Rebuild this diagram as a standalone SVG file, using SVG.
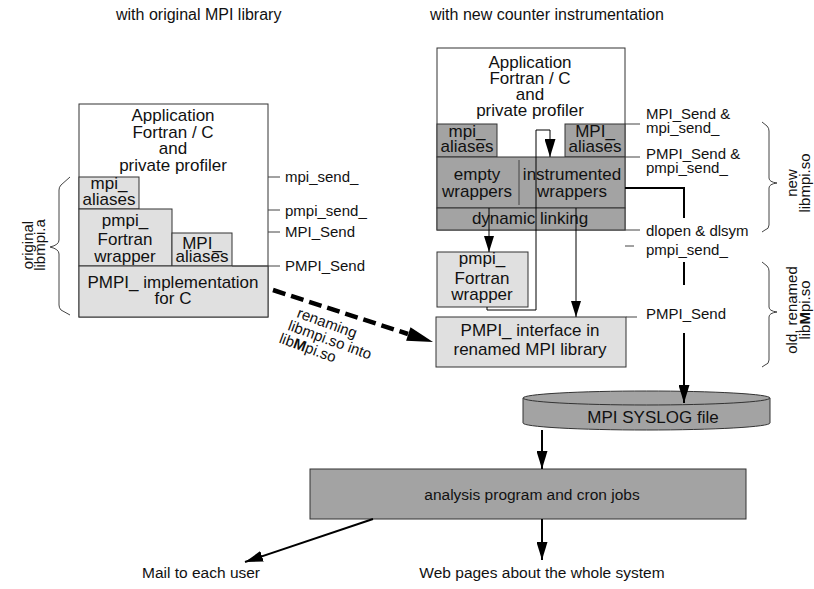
<svg xmlns="http://www.w3.org/2000/svg" width="814" height="589" viewBox="0 0 814 589">
<style>
text{font-family:"Liberation Sans",Arial,sans-serif;fill:#111}
.b{font-size:17px;text-anchor:middle}
.l{font-size:15px}
.h{font-size:16px}
.lt{fill:#e0e0e0;stroke:#333;stroke-width:1}
.dk{fill:#a3a3a3;stroke:#333;stroke-width:1}
.wh{fill:#fff;stroke:#333;stroke-width:1}
.tk{fill:none;stroke:#000;stroke-width:2}
.tn{fill:none;stroke:#000;stroke-width:1}
.gl{fill:none;stroke:#444;stroke-width:1}
</style>
<defs>
<marker id="ah" markerUnits="userSpaceOnUse" markerWidth="18" markerHeight="11" refX="18" refY="5.5" orient="auto"><path d="M0,0 L18,5.5 L0,11 Z" fill="#000"/></marker>
<marker id="as" markerUnits="userSpaceOnUse" markerWidth="16" markerHeight="10" refX="16" refY="5" orient="auto"><path d="M0,0 L16,5 L0,10 Z" fill="#000"/></marker>
</defs>

<text class="h" x="116" y="20">with original MPI library</text>
<text class="h" x="430" y="20">with new counter instrumentation</text>

<g id="left-app">
<rect class="wh" x="79" y="104" width="189" height="213"/>
<text class="b" x="173" y="121">Application<tspan x="173" dy="16.5">Fortran / C</tspan><tspan x="173" dy="16.5">and</tspan><tspan x="173" dy="16.5">private profiler</tspan></text>
</g>
<g id="left-mpi-aliases">
<rect class="lt" x="79" y="177" width="60" height="32"/>
<text class="b" x="109" y="189">mpi_<tspan x="109" dy="16">aliases</tspan></text>
</g>
<g id="left-pmpi-fortran">
<rect class="lt" x="79" y="209" width="93" height="57"/>
<text class="b" x="125" y="226">pmpi_<tspan x="125" dy="19">Fortran</tspan><tspan x="125" dy="17">wrapper</tspan></text>
</g>
<g id="left-MPI-aliases">
<rect class="lt" x="172" y="233" width="60" height="33"/>
<text class="b" x="202" y="249">MPI_<tspan x="202" dy="13">aliases</tspan></text>
</g>
<g id="left-pmpi-impl">
<rect class="lt" x="79" y="266" width="189" height="51"/>
<text class="b" x="173" y="288">PMPI_ implementation<tspan x="173" dy="16">for C</tspan></text>
</g>
<g id="left-labels">
<path class="gl" d="M268,177 H280 M268,210 H280 M268,232 H280 M232,266 H280"/>
<text class="l" x="285" y="182">mpi_send_</text>
<text class="l" x="285" y="216">pmpi_send_</text>
<text class="l" x="285" y="237">MPI_Send</text>
<text class="l" x="285" y="271">PMPI_Send</text>
</g>
<g id="left-brace">
<path class="gl" d="M70,177 L61,185 Q59,187 59,190 V240 Q59,245 50,247 Q59,249 59,254 V305 Q59,308 61,310 L70,315"/>
<text class="l" transform="translate(33,245) rotate(-90)" text-anchor="middle">original<tspan x="0" dy="12">libmpi.a</tspan></text>
</g>

<g id="right-app">
<rect class="wh" x="437" y="48" width="188" height="182"/>
<text class="b" x="530" y="68">Application<tspan x="530" dy="16">Fortran / C</tspan><tspan x="530" dy="16">and</tspan><tspan x="530" dy="16">private profiler</tspan></text>
</g>
<g id="right-mpi-aliases">
<rect class="dk" x="437" y="124" width="60" height="33"/>
<text class="b" x="467" y="137">mpi_<tspan x="467" dy="15">aliases</tspan></text>
</g>
<g id="right-MPI-aliases">
<rect class="dk" x="565" y="124" width="60" height="33"/>
<text class="b" x="595" y="137">MPI_<tspan x="595" dy="15">aliases</tspan></text>
</g>
<g id="wrappers">
<rect class="dk" x="437" y="157" width="188" height="51"/>
<line class="gl" x1="519" y1="160" x2="519" y2="205"/>
<text class="b" x="477" y="180">empty<tspan x="477" dy="17">wrappers</tspan></text>
<text class="b" x="572" y="180">instrumented<tspan x="572" dy="17">wrappers</tspan></text>
</g>
<g id="dynamic-linking">
<rect class="dk" x="437" y="208" width="188" height="22"/>
<text class="b" x="530" y="224">dynamic linking</text>
</g>
<g id="right-pmpi-fortran">
<rect class="lt" x="437" y="252" width="91" height="55"/>
<text class="b" x="482" y="264">pmpi_<tspan x="482" dy="20">Fortran</tspan><tspan x="482" dy="16">wrapper</tspan></text>
</g>
<g id="pmpi-interface">
<rect class="lt" x="436" y="317" width="190" height="50"/>
<text class="b" x="530" y="336">PMPI_ interface in<tspan x="530" dy="19">renamed MPI library</tspan></text>
</g>
<g id="syslog">
<path d="M523,398 V423 A123.5,7 0 0 0 770,423 V398 Z" fill="#a3a3a3" stroke="#333" stroke-width="1"/>
<ellipse cx="646.5" cy="398" rx="123.5" ry="7" fill="#a3a3a3" stroke="#333" stroke-width="1"/>
<text class="b" x="653" y="423">MPI SYSLOG file</text>
</g>
<g id="analysis">
<rect class="dk" x="310" y="469" width="436" height="50"/>
<text x="532" y="500" font-size="15.5" text-anchor="middle">analysis program and cron jobs</text>
</g>
<g id="mail"><text x="142" y="578" font-size="15.5">Mail to each user</text></g>
<g id="web"><text x="542" y="578" font-size="15.5" text-anchor="middle">Web pages about the whole system</text></g>

<g id="right-labels">
<path class="gl" d="M625,124 H640 M625,157 H640 M625,230 H640 M625,246 H634 M626,317 H637"/>
<text class="l" x="646" y="119">MPI_Send &amp;<tspan x="646" dy="14">mpi_send_</tspan></text>
<text class="l" x="646" y="159">PMPI_Send &amp;<tspan x="646" dy="14">pmpi_send_</tspan></text>
<text class="l" x="646" y="236">dlopen &amp; dlsym</text>
<text class="l" x="646" y="255">pmpi_send_</text>
<text class="l" x="646" y="319">PMPI_Send</text>
</g>
<g id="right-braces">
<path class="gl" d="M762,122 L767,126 Q769,128 769,131 V178 Q769,182 777,183 Q769,184 769,188 V225 Q769,229 765,230 L762,232"/>
<path class="gl" d="M762,262 L767,266 Q769,268 769,271 V307 Q769,311 777,312 Q769,313 769,317 V360 Q769,364 765,365 L762,367"/>
<text class="l" transform="translate(797,183) rotate(-90)" text-anchor="middle">new<tspan x="0" dy="13">libmpi.so</tspan></text>
<text class="l" transform="translate(797,310) rotate(-90)" text-anchor="middle">old, renamed<tspan x="0" dy="13">lib<tspan font-weight="bold">M</tspan>pi.so</tspan></text>
</g>

<g id="connectors">
<path class="tn" d="M489,208 V252" marker-end="url(#as)"/>
<path class="tn" d="M576,208 V317" marker-end="url(#as)"/>
<path class="tn" d="M487,307 V310 H536 V130 H550 V157" marker-end="url(#ah)"/>
<path class="tk" d="M625,188 H684 V218"/>
<path class="tk" d="M684,262 V285"/>
<path class="tk" d="M684,333 V403" marker-end="url(#ah)"/>
<path class="tk" d="M542,430 V469" marker-end="url(#ah)"/>
<path class="tk" d="M542,519 V560" marker-end="url(#ah)"/>
<path class="tk" d="M373,519 L245,562" marker-end="url(#ah)"/>
<path d="M273,290 L408,334" fill="none" stroke="#000" stroke-width="4.5" stroke-dasharray="13,6"/>
<polygon points="433,342 410.5,327.3 406.1,340.7" fill="#000"/>
<text class="l" transform="translate(296,317) rotate(20)">renaming<tspan x="-4" dy="15">libmpi.so into</tspan><tspan x="-8" dy="15">lib<tspan font-weight="bold">M</tspan>pi.so</tspan></text>
</g>
</svg>
